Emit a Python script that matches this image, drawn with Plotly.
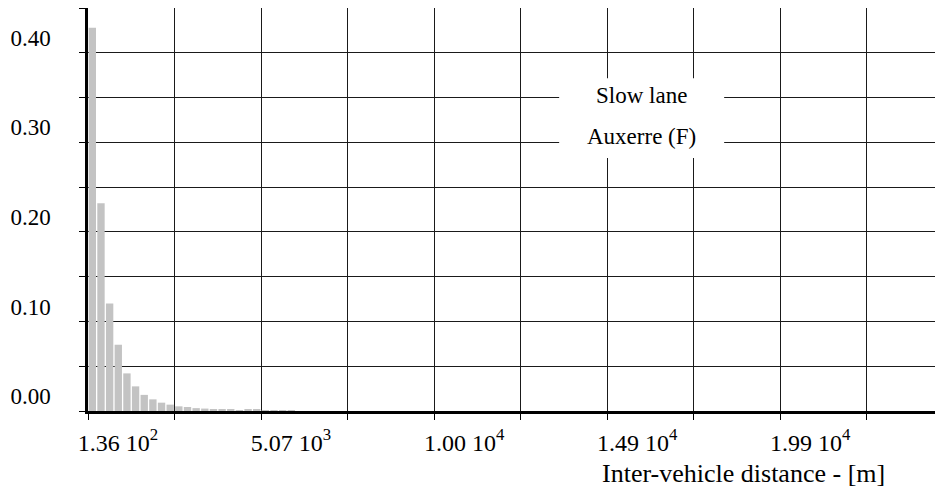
import plotly.graph_objects as go

# ---- data ----
bin_start = 136.0          # m, left edge of first bin
bin_width = 246.7          # m
frequencies = [0.428, 0.232, 0.120, 0.074, 0.042, 0.0275, 0.018, 0.013, 0.0093,
               0.0071, 0.0052, 0.0045, 0.0032, 0.0027, 0.0020, 0.0016, 0.0012,
               0.0010, 0.0018, 0.0015, 0.0010, 0.0006, 0.0006, 0.0008]
grid_step = 2467.0
x_tick_vals = [bin_start + k * grid_step for k in range(10)]
x_tick_text = ["1.36 10<sup>2</sup>", "", "5.07 10<sup>3</sup>", "", "1.00 10<sup>4</sup>", "",
               "1.49 10<sup>4</sup>", "", "1.99 10<sup>4</sup>", ""]
y_tick_vals = [0.00, 0.05, 0.10, 0.15, 0.20, 0.25, 0.30, 0.35, 0.40, 0.45]
y_tick_text = ["0.00", "", "0.10", "", "0.20", "", "0.30", "", "0.40", ""]
x_title = "Inter-vehicle distance - [m]"
label_lines = ["Slow lane", "Auxerre (F)"]

bar_x = [bin_start + (i + 0.5) * bin_width for i in range(len(frequencies))]

FONT = "Liberation Serif, Times New Roman, serif"
# page body has an 8px margin: figure origin sits at (8, 8) in the window
OFF = 8
W, H = 943 - OFF, 492 - OFF
L, T, B = 88 - OFF, 0, 492 - 410.7
PW, PH = W - L, H - T - B

fig = go.Figure()
fig.add_trace(go.Bar(x=bar_x, y=frequencies, marker=dict(color="#c3c3c3", line=dict(width=0)),
                     width=bin_width * 0.85))

fig.update_layout(
    width=W, height=H,
    margin=dict(l=L, r=0, t=T, b=B, pad=0, autoexpand=False),
    paper_bgcolor="white", plot_bgcolor="white",
    showlegend=False,
    font=dict(family=FONT, size=23, color="black"),
)
fig.update_xaxes(
    range=[bin_start, 24515], automargin=False,
    tickmode="array", tickvals=x_tick_vals, ticktext=x_tick_text,
    tickfont=dict(size=24),
    showgrid=True, gridcolor="#1a1a1a", gridwidth=1,
    showline=True, linecolor="black", linewidth=2.5,
    ticks="outside", ticklen=6, tickcolor="black", tickwidth=1,
    ticklabelshift=30, ticklabelstandoff=2,
    zeroline=False,
)
fig.update_yaxes(
    range=[0, 0.45], automargin=False,
    tickmode="array", tickvals=y_tick_vals, ticktext=y_tick_text,
    showgrid=True, gridcolor="#1a1a1a", gridwidth=1,
    showline=True, linecolor="black", linewidth=2.5,
    ticks="outside", ticklen=6, tickcolor="black", tickwidth=1,
    ticklabelshift=-15, ticklabelstandoff=24,
    zeroline=False,
)

# white label box over the grid
fig.add_shape(type="rect", xref="x", yref="y", x0=13570, x1=18275, y0=0.2825, y1=0.3716,
              fillcolor="white", line=dict(width=0), layer="above")
fig.add_annotation(x=15920, y=0.352, xref="x", yref="y", text=label_lines[0],
                   showarrow=False, font=dict(family=FONT, size=23, color="black"))
fig.add_annotation(x=15920, y=0.306, xref="x", yref="y", text=label_lines[1],
                   showarrow=False, font=dict(family=FONT, size=23, color="black"))

fig.add_annotation(x=(743 - 88) / PW, y=-(473 - 410.7) / PH, xref="paper", yref="paper",
                   text=x_title, xanchor="center", yanchor="middle",
                   showarrow=False, font=dict(family=FONT, size=26, color="black"))

fig.write_html("out.html")
